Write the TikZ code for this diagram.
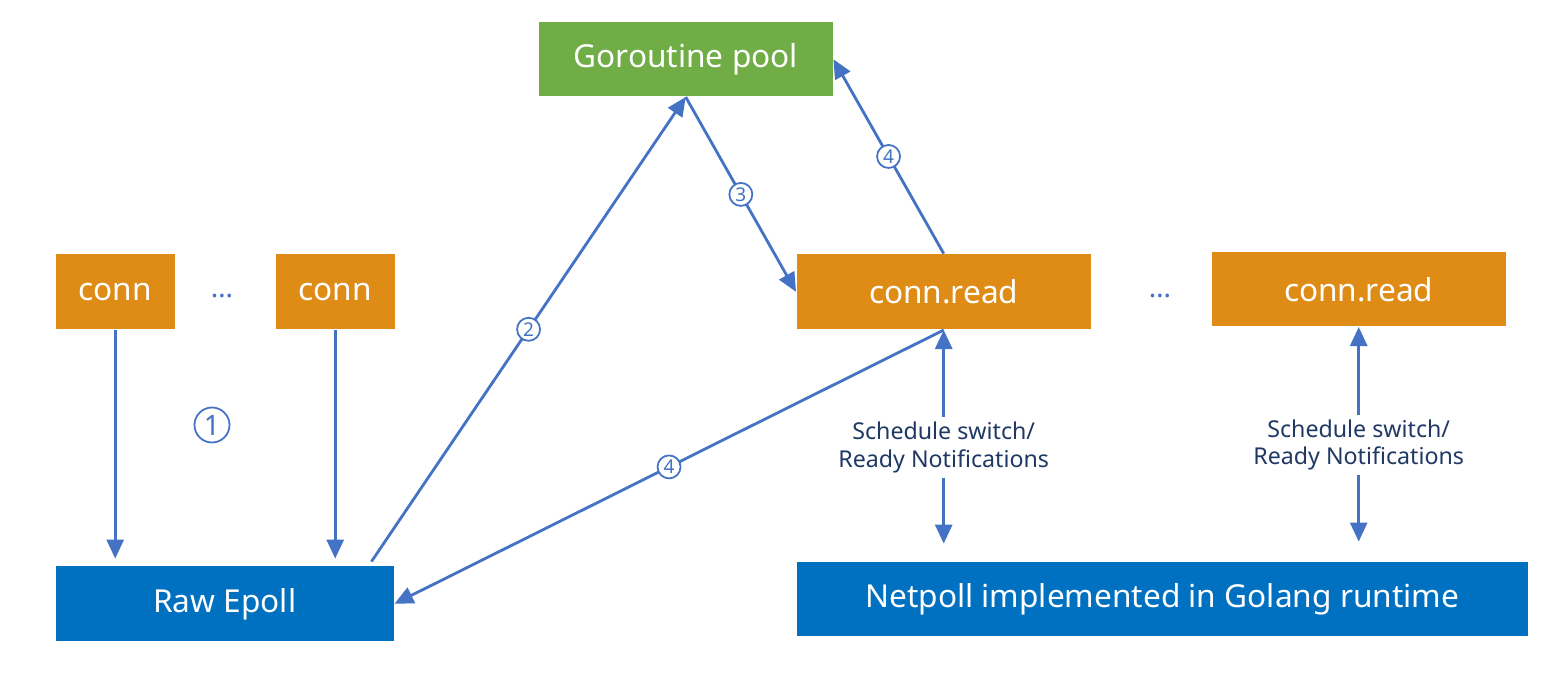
\documentclass[tikz,border=0pt]{standalone}
\usepackage{fontspec}
\setmainfont{Noto Sans}
\usetikzlibrary{positioning,calc,arrows.meta}
\definecolor{poolgreen}{HTML}{70AD47}
\definecolor{connorange}{HTML}{DF8C16}
\definecolor{epollblue}{HTML}{0070C0}
\definecolor{flowblue}{HTML}{4472C4}
\definecolor{notenavy}{HTML}{203864}
\tikzset{
  block/.style={draw=none,anchor=south west,inner sep=0pt,minimum height=0.75cm,
        text=white,font=\fontsize{9}{10}\selectfont},
  flow/.style={flowblue,line width=0.8pt,-{Triangle[length=1.9mm,width=1.7mm]}},
  twoway/.style={flowblue,line width=0.8pt,
        {Triangle[length=1.9mm,width=1.7mm]}-{Triangle[length=1.9mm,width=1.7mm]}},
  stepnum/.style={circle,draw=flowblue,line width=0.5pt,fill=white,text=flowblue,
        inner sep=0pt,minimum size=0.23cm,font=\fontsize{5.4}{6}\selectfont},
  note/.style={fill=white,text=notenavy,align=center,inner sep=1.5pt,
        font=\fontsize{6.6}{7.7}\selectfont},
  gapdots/.style={text=flowblue,font=\fontsize{8}{10}\selectfont}
}

\begin{document}
\begin{tikzpicture}
  \useasboundingbox (0,0) rectangle (15.68,6.72);
  \node[block,fill=poolgreen,minimum width=2.94cm,minimum height=0.74cm] (pool) at (5.38,5.75) {Goroutine pool};
  \foreach \x/\nm in {0.55/connA, 2.75/connB}
    \node[block,fill=connorange,minimum width=1.19cm] (\nm) at (\x,3.42) {conn};
  \node[block,fill=connorange,minimum width=2.94cm] (readA) at (7.96,3.42) {conn.read};
  \node[block,fill=connorange,minimum width=2.94cm,minimum height=0.74cm] (readB) at (12.11,3.45) {conn.read};
  \node[block,fill=epollblue,minimum width=3.38cm] (epoll) at (0.55,0.30) {Raw Epoll};
  \node[block,fill=epollblue,minimum width=7.31cm,minimum height=0.74cm] (netpoll) at (7.96,0.35) {Netpoll implemented in Golang runtime};
  \node[gapdots] (dotsL) at (2.22,3.76) {…};
  \node[gapdots] (dotsR) at (11.60,3.76) {…};
  \node[stepnum,minimum size=0.35cm,line width=0.5pt,font=\fontsize{8}{9}\selectfont] (one) at (2.12,2.47) {1};

  \foreach \nm in {connA, connB}
    \draw[flow] (\nm.south) -- ([yshift=0.07cm]epoll.north -| \nm.south);
  \coordinate (epollout) at ($(epoll.north east)+(-0.23,0.04)$);
  \draw[flow] (epollout) -- node[stepnum] {2} (pool.south);
  \draw[flow] (pool.south) -- node[stepnum] {3} (readA.west);
  \draw[flow] (readA.north) -- node[stepnum] {4} (pool.east);
  \draw[flow] (readA.south) -- node[stepnum] {4} (epoll.east);
  \foreach \nm/\gap in {readA/0.18, readB/0.20}
    \draw[twoway] (\nm.south) -- node[note,pos=0.55] {Schedule switch/\\Ready Notifications}
      ([yshift=\gap cm]netpoll.north -| \nm.south);
\end{tikzpicture}
\end{document}
